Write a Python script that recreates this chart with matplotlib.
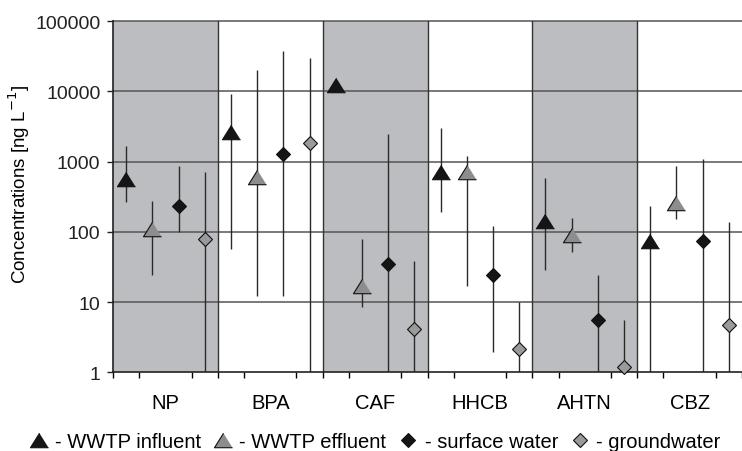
import numpy as np
import matplotlib
matplotlib.use("Agg")
from matplotlib import pyplot as plt
from matplotlib.lines import Line2D

plt.rcParams['font.family'] = ['Liberation Sans', 'DejaVu Sans']

categories = ['NP', 'BPA', 'CAF', 'HHCB', 'AHTN', 'CBZ']

# mean concentration and range (low, high) per compound, ng/L
influent = [570, 2640, 12300, 720, 144, 75]
influent_lo = [267, 57, 12300, 190, 28.7, 1]
influent_hi = [1660, 9200, 12300, 3000, 580, 236]

effluent = [110, 600, 17, 720, 90, 260]
effluent_lo = [24, 12.3, 8.5, 17, 52, 153]
effluent_hi = [275, 20000, 79, 1180, 158, 850]

surface = [234, 1260, 35, 24, 5.6, 75]
surface_lo = [100, 12.3, 1, 1.96, 1, 1]
surface_hi = [870, 38000, 2480, 122, 24.3, 1100]

ground = [79, 1820, 4.1, 2.15, 1.18, 4.7]
ground_lo = [1, 1, 1, 1, 1, 1]
ground_hi = [710, 30000, 38, 10, 5.6, 138]

tri = [(0, 0.8), (-1, -0.8), (1, -0.8)]
series = [
    (influent, influent_lo, influent_hi, tri, 13, '#151515', '- WWTP influent'),
    (effluent, effluent_lo, effluent_hi, tri, 13, '#8d8d8d', '- WWTP effluent'),
    (surface, surface_lo, surface_hi, 'D', 7.2, '#151515', '- surface water'),
    (ground, ground_lo, ground_hi, 'D', 7.2, '#9a9a9a', '- groundwater'),
]

fig = plt.figure(figsize=(7.42, 4.52), dpi=100)
ax = fig.add_axes([113/742, 1-373.3/452, 1-113/742, (373.3-22)/452])

ax.set_yscale('log')
ax.set_ylim(1, 100000)
ax.set_xlim(0, 5.945)

# shaded bands for alternating compounds
for i in (0, 2, 4):
    ax.axvspan(i, i+1, color='#bcbdc0', lw=0, zorder=0)

for y in [10, 100, 1000, 10000, 100000]:
    ax.axhline(y, color='#555555', lw=1.1, zorder=1, clip_on=False)
for i in range(1, 6):
    ax.axvline(i, color='#333333', lw=1, zorder=1)

handles = []
for j, (vals, lo, hi, mk, ms, fc, lab) in enumerate(series):
    x = np.arange(len(categories)) + 0.125 + 0.25*j
    v = np.array(vals, dtype=float)
    err = [v - np.array(lo), np.array(hi) - v]
    ax.errorbar(x, v, yerr=err, fmt='none', ecolor='#2a2a2a', elinewidth=1,
                capsize=0, zorder=2)
    ax.plot(x, v, ls='none', marker=mk, ms=ms, mfc=fc, mec='#111111',
            mew=0.8, zorder=3, clip_on=False)
    handles.append(Line2D([], [], ls='none', marker=mk, ms=ms, mfc=fc,
                          mec='#111111', mew=0.8, label=lab))

ax.set_yticks([1, 10, 100, 1000, 10000, 100000])
ax.set_yticklabels(['1', '10', '100', '1000', '10000', '100000'])
ax.yaxis.set_minor_locator(matplotlib.ticker.NullLocator())
ax.tick_params(axis='y', length=4, width=1, pad=5, labelsize=14, colors='#222222')

ax.set_xticks(np.arange(len(categories)) + 0.5)
ax.set_xticklabels(categories)
ax.set_xticks(np.arange(0, 6.01, 0.25), minor=True)
ax.tick_params(axis='x', which='major', length=0, pad=15, labelsize=14.5)
ax.tick_params(axis='x', which='minor', length=4, width=1, direction='out')

for s in ['top', 'right']:
    ax.spines[s].set_visible(False)
for s in ['left', 'bottom']:
    ax.spines[s].set_color('#222222')
    ax.spines[s].set_linewidth(1.2)

fig.text(19/742, 1-185/452, 'Concentrations [ng L$^{-1}$]', rotation=90,
         ha='center', va='center', fontsize=13.5)

fig.legend(handles=handles, loc='center', bbox_to_anchor=(0.505, 1-443/452),
           ncol=4, frameon=False, fontsize=14.5, handlelength=1.0,
           handletextpad=0.3, columnspacing=0.6, borderaxespad=0)

fig.savefig('out.png', dpi=100)
